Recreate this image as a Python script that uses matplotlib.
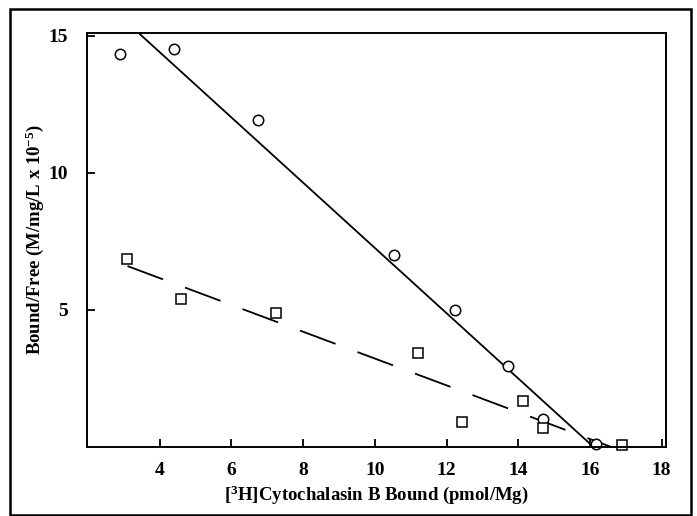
import numpy as np
import matplotlib
matplotlib.use("Agg")
import matplotlib.pyplot as plt
from matplotlib.patches import Rectangle

plt.rcParams['font.family'] = ['Liberation Serif', 'DejaVu Serif']
plt.rcParams['mathtext.default'] = 'regular'

# cercles
circ_x = [2.88, 4.39, 6.74, 10.54, 12.24, 13.72, 14.7, 16.17]
circ_y = [14.34, 14.5, 11.93, 7.0, 5.0, 2.96, 1.02, 0.1]
# carres
sq_x = [3.1, 4.59, 7.24, 11.2, 12.44, 14.14, 14.7, 16.88]
sq_y = [6.86, 5.4, 4.89, 3.43, 0.91, 1.68, 0.69, 0.07]

# droites ajustees (pente, ordonnee, x debut, x fin)
solid_fit = (-1.19, 19.16, 3.41, 16.05)
dash_fit = (-0.489, 8.116, 3.1, 16.6)

xticks = [4, 6, 8, 10, 12, 14, 16, 18]
yticks = [5, 10, 15]

fig = plt.figure(figsize=(6.97, 5.16), dpi=100)
fig.patches.append(Rectangle((10/697, 1/516), 681/697, 506/516, transform=fig.transFigure,
                             fill=False, edgecolor='black', linewidth=1.8))
ax = fig.add_axes([0.1248, 0.1337, 0.8307, 0.8023])

m, b, x0, x1 = solid_fit
xs = np.array([x0, x1])
ax.plot(xs, m * xs + b, color='black', lw=1.3)
m, b, x0, x1 = dash_fit
xs = np.array([x0, x1])
ax.plot(xs, m * xs + b, color='black', lw=1.3, linestyle=(0, (21, 13)))

ax.plot(circ_x, circ_y, 'o', mfc='white', mec='black', ms=7.5, mew=1.1, clip_on=False)
ax.plot(sq_x, sq_y, 's', mfc='white', mec='black', ms=7, mew=1.1, clip_on=False)

ax.set_xlim(1.97, 18.12)
ax.set_ylim(0, 15.1)
ax.set_xticks(xticks)
ax.set_yticks(yticks)
ax.tick_params(direction='in', length=6, width=1.3, labelsize=14)
ax.tick_params(axis='y', pad=14)
ax.tick_params(axis='x', pad=11)
for lab in ax.get_xticklabels() + ax.get_yticklabels():
    lab.set_fontweight('bold')
for s in ax.spines.values():
    s.set_linewidth(1.4)

ax.set_xlabel("[$^{3}$H]Cytochalasin B Bound (pmol/Mg)", fontsize=13.5, fontweight='bold', labelpad=3)
ax.set_ylabel("Bound/Free (M/mg/L x 10$^{-5}$)", fontsize=13.5, fontweight='bold', labelpad=1.5)

fig.savefig("out.png", dpi=100)
